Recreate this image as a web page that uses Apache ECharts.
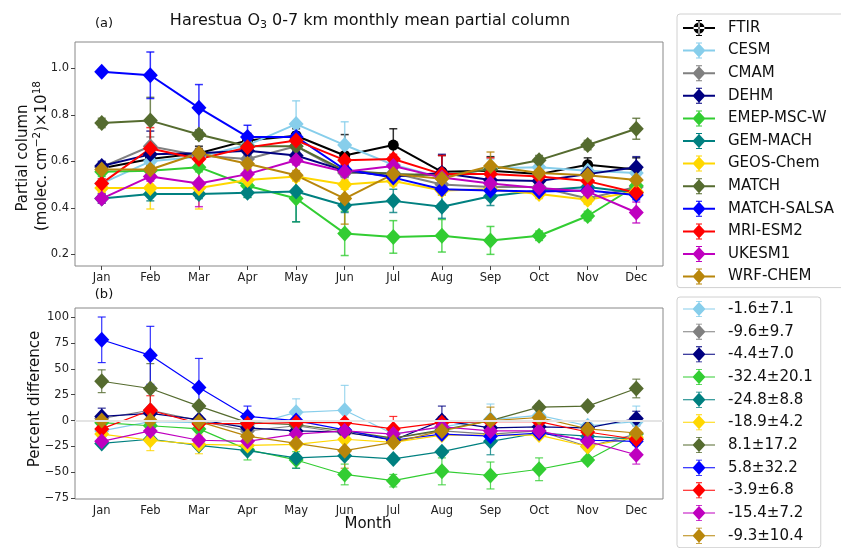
<!DOCTYPE html>
<html><head><meta charset="utf-8">
<script src="https://cdn.jsdelivr.net/npm/echarts@6/dist/echarts.min.js"></script>
<style>html,body{margin:0;padding:0;background:#fff}#c{width:841px;height:548px}</style>
</head><body><div id="c"></div>
<script>
// ---------- data ----------
const months = ['Jan','Feb','Mar','Apr','May','Jun','Jul','Aug','Sep','Oct','Nov','Dec'];
const topTicks = [0.2, 0.4, 0.6, 0.8, 1.0];
const bottomTicks = [-75, -50, -25, 0, 25, 50, 75, 100];

const modelNames = ['FTIR','CESM','CMAM','DEHM','EMEP-MSC-W','GEM-MACH','GEOS-Chem','MATCH','MATCH-SALSA','MRI-ESM2','UKESM1','WRF-CHEM'];
const modelColors = ['#000000','#87CEEB','#808080','#000080','#32CD32','#008080','#FFD700','#556B2F','#0000FF','#FF0000','#BF00BF','#B8860B'];

// (a) partial column, 1e18 molec cm-2
const ftir      = [0.57, 0.61, 0.635, 0.69, 0.71, 0.625, 0.67, 0.555, 0.56, 0.545, 0.585, 0.565];
const ftirErr   = [0.02, 0.03, 0.03, 0.03, 0.03, 0.09, 0.07, 0.07, 0.06, 0.03, 0.03, 0.05];
const cesm      = [0.505, 0.60, 0.62, 0.67, 0.76, 0.67, 0.585, 0.53, 0.57, 0.575, 0.56, 0.55];
const cesmErr   = [0.02, 0.03, 0.03, 0.03, 0.10, 0.10, 0.03, 0.03, 0.04, 0.03, 0.03, 0.03];
const cmam      = [0.575, 0.665, 0.625, 0.61, 0.665, 0.55, 0.55, 0.50, 0.49, 0.49, 0.44, 0.49];
const cmamErr   = [0.02, 0.04, 0.02, 0.02, 0.02, 0.02, 0.02, 0.02, 0.02, 0.02, 0.02, 0.02];
const dehm      = [0.58, 0.63, 0.635, 0.645, 0.625, 0.56, 0.535, 0.55, 0.52, 0.515, 0.545, 0.575];
const dehmErr   = [0.02, 0.10, 0.02, 0.02, 0.02, 0.02, 0.02, 0.08, 0.02, 0.02, 0.02, 0.045];
const emep      = [0.555, 0.56, 0.575, 0.495, 0.44, 0.29, 0.275, 0.28, 0.26, 0.28, 0.365, 0.495];
const emepErr   = [0.02, 0.02, 0.02, 0.05, 0.10, 0.095, 0.07, 0.07, 0.06, 0.02, 0.02, 0.02];
const gemmach   = [0.44, 0.46, 0.46, 0.465, 0.47, 0.41, 0.43, 0.405, 0.45, 0.475, 0.49, 0.465];
const gemmachErr= [0.02, 0.03, 0.02, 0.02, 0.13, 0.03, 0.05, 0.05, 0.04, 0.02, 0.02, 0.02];
const geoschem  = [0.485, 0.485, 0.485, 0.52, 0.535, 0.50, 0.515, 0.475, 0.48, 0.46, 0.435, 0.47];
const geoschemErr=[0.02, 0.09, 0.09, 0.02, 0.02, 0.02, 0.02, 0.02, 0.02, 0.02, 0.02, 0.02];
const match     = [0.765, 0.775, 0.715, 0.665, 0.665, 0.56, 0.545, 0.54, 0.565, 0.605, 0.67, 0.74];
const matchErr  = [0.02, 0.10, 0.02, 0.02, 0.02, 0.02, 0.02, 0.02, 0.02, 0.02, 0.02, 0.045];
const salsa     = [0.985, 0.97, 0.83, 0.705, 0.705, 0.565, 0.53, 0.48, 0.475, 0.47, 0.475, 0.455];
const salsaErr  = [0.01, 0.10, 0.10, 0.05, 0.02, 0.02, 0.02, 0.02, 0.02, 0.02, 0.02, 0.02];
const mri       = [0.505, 0.655, 0.61, 0.66, 0.69, 0.605, 0.61, 0.545, 0.545, 0.535, 0.515, 0.465];
const mriErr    = [0.02, 0.09, 0.02, 0.02, 0.02, 0.02, 0.02, 0.08, 0.07, 0.02, 0.02, 0.02];
const ukesm     = [0.44, 0.535, 0.505, 0.545, 0.605, 0.555, 0.58, 0.53, 0.505, 0.485, 0.47, 0.38];
const ukesmErr  = [0.02, 0.02, 0.10, 0.02, 0.02, 0.02, 0.02, 0.02, 0.02, 0.02, 0.02, 0.045];
const wrf       = [0.565, 0.565, 0.635, 0.59, 0.54, 0.44, 0.545, 0.525, 0.58, 0.55, 0.54, 0.52];
const wrfErr    = [0.02, 0.02, 0.02, 0.02, 0.02, 0.11, 0.02, 0.02, 0.06, 0.02, 0.02, 0.02];

// (b) percent difference vs FTIR
const statLabels = ['-1.6±7.1','-9.6±9.7','-4.4±7.0','-32.4±20.1','-24.8±8.8','-18.9±4.2','8.1±17.2','5.8±32.2','-3.9±6.8','-15.4±7.2','-9.3±10.4'];
const cesmPct     = [-10, -1, -2, -5, 8, 10, -13, -6, 1, 5, -5, -1];
const cesmPctErr  = [3, 3, 3, 3, 13, 24, 3, 3, 15, 3, 3, 15];
const cmamPct     = [2, 10, 0, -10, -5, -12, -17, -10, -13, -10, -25, -13];
const cmamPctErr  = [3, 3, 3, 3, 3, 3, 3, 3, 3, 3, 3, 3];
const dehmPct     = [4, 7, 1, -7, -10, -11, -19, 0, -7, -6, -7, 2];
const dehmPctErr  = [8, 3, 3, 3, 3, 3, 3, 14, 3, 3, 3, 7];
const emepPct     = [-2, -5, -8, -28, -38, -52, -58, -49, -53, -47, -38, -13];
const emepPctErr  = [3, 3, 3, 10, 8, 10, 6, 13, 13, 11, 3, 3];
const gemmachPct  = [-22, -18, -24, -29, -36, -34, -37, -30, -20, -12, -15, -18];
const gemmachPctErr=[3, 3, 3, 3, 10, 3, 3, 3, 13, 3, 3, 3];
const geoschemPct = [-13, -19, -23, -24, -23, -18, -21, -14, -14, -14, -25, -16];
const geoschemPctErr=[3, 10, 9, 3, 3, 3, 3, 3, 3, 3, 3, 3];
const matchPct    = [38, 31, 14, -2, -4, -10, -17, -9, 0, 13, 14, 31];
const matchPctErr = [11, 24, 3, 3, 3, 3, 3, 3, 3, 3, 3, 9];
const salsaPct    = [78, 63, 32, 4, 0, -9, -19, -13, -15, -12, -19, -20];
const salsaPctErr = [22, 28, 28, 10, 3, 3, 3, 3, 3, 3, 3, 3];
const mriPct      = [-8, 10, -3, -3, -2, -2, -8, -2, -1, -1, -11, -18];
const mriPctErr   = [3, 14, 3, 3, 3, 3, 12, 6, 3, 3, 3, 3];
const ukesmPct    = [-20, -10, -19, -20, -13, -10, -13, -6, -10, -10, -20, -33];
const ukesmPctErr = [3, 3, 3, 3, 3, 3, 3, 3, 3, 3, 3, 9];
const wrfPct      = [0, 0, -1, -15, -22, -29, -21, -10, 0, 3, -8, -12];
const wrfPctErr   = [3, 3, 3, 3, 3, 17, 3, 3, 13, 3, 3, 3];

const topVals = [ftir, cesm, cmam, dehm, emep, gemmach, geoschem, match, salsa, mri, ukesm, wrf];
const topErrs = [ftirErr, cesmErr, cmamErr, dehmErr, emepErr, gemmachErr, geoschemErr, matchErr, salsaErr, mriErr, ukesmErr, wrfErr];
const botVals = [cesmPct, cmamPct, dehmPct, emepPct, gemmachPct, geoschemPct, matchPct, salsaPct, mriPct, ukesmPct, wrfPct];
const botErrs = [cesmPctErr, cmamPctErr, dehmPctErr, emepPctErr, gemmachPctErr, geoschemPctErr, matchPctErr, salsaPctErr, mriPctErr, ukesmPctErr, wrfPctErr];

// ---------- chart ----------
const FONT = 'DejaVu Sans';
const chart = echarts.init(document.getElementById('c'), null, {renderer:'canvas'});

function errRender(lw){
  return function(params, api){
    const x = api.value(0), lo = api.value(1), hi = api.value(2);
    const a = api.coord([x, hi]), b = api.coord([x, lo]);
    const c = api.visual('color');
    const st = {stroke: c, lineWidth: lw, opacity: 0.8};
    const cw = 4;
    return {type:'group', children:[
      {type:'line', shape:{x1:a[0], y1:a[1], x2:b[0], y2:b[1]}, style:st},
      {type:'line', shape:{x1:a[0]-cw, y1:a[1], x2:a[0]+cw, y2:a[1]}, style:st},
      {type:'line', shape:{x1:b[0]-cw, y1:b[1], x2:b[0]+cw, y2:b[1]}, style:st}
    ]};
  };
}

const series = [];
topVals.forEach((vals, k) => {
  const col = modelColors[k];
  series.push({
    type:'custom', name:'err-a-'+modelNames[k], xAxisIndex:0, yAxisIndex:0,
    renderItem: errRender(1.5), itemStyle:{color:col}, silent:true,
    encode:{x:0, y:[1,2]},
    data: vals.map((v,i) => [i+1, v - topErrs[k][i], v + topErrs[k][i]])
  });
  series.push({
    type:'line', name:modelNames[k], xAxisIndex:0, yAxisIndex:0,
    data: vals.map((v,i) => [i+1, v]),
    symbol: k === 0 ? 'circle' : 'diamond',
    symbolSize: k === 0 ? 11 : [15, 16],
    lineStyle:{color:col, width:2}, itemStyle:{color:col},
    emphasis:{disabled:true}, silent:true
  });
});
botVals.forEach((vals, k) => {
  const col = modelColors[k+1];
  series.push({
    type:'custom', name:'err-b-'+modelNames[k+1], xAxisIndex:1, yAxisIndex:1,
    renderItem: errRender(1.2), itemStyle:{color:col}, silent:true,
    encode:{x:0, y:[1,2]},
    data: vals.map((v,i) => [i+1, v - botErrs[k][i], v + botErrs[k][i]])
  });
  const s = {
    type:'line', name:statLabels[k], xAxisIndex:1, yAxisIndex:1,
    data: vals.map((v,i) => [i+1, v]),
    symbol:'diamond', symbolSize:[15, 16],
    lineStyle:{color:col, width:1.2}, itemStyle:{color:col},
    emphasis:{disabled:true}, silent:true
  };
  if (k === 0) {
    s.markLine = {silent:true, symbol:'none', label:{show:false},
      lineStyle:{color:'#e4e4e4', width:2, type:'solid'}, data:[{yAxis:0}]};
  }
  series.push(s);
});

const diamondIconThick = 'path://M0,7 L32,7 L32,9 L0,9 Z M15.4,0 L16.6,0 L16.6,16 L15.4,16 Z M13,0 L19,0 L19,1 L13,1 Z M13,15 L19,15 L19,16 L13,16 Z M16,1 L22.5,8 L16,15 L9.5,8 Z';
const circleIcon = 'path://M0,7 L32,7 L32,9 L0,9 Z M15.4,0 L16.6,0 L16.6,16 L15.4,16 Z M13,0 L19,0 L19,1 L13,1 Z M13,15 L19,15 L19,16 L13,16 Z M10.5,8 A5.5,5.5 0 1,0 21.5,8 A5.5,5.5 0 1,0 10.5,8 Z';
const diamondIconThin = 'path://M0,7.5 L32,7.5 L32,8.5 L0,8.5 Z M15.5,0 L16.5,0 L16.5,16 L15.5,16 Z M13,0 L19,0 L19,0.8 L13,0.8 Z M13,15.2 L19,15.2 L19,16 L13,16 Z M16,1 L22.5,8 L16,15 L9.5,8 Z';

function xAxisCfg(gi){
  return {
    type:'value', gridIndex:gi, min:0.45, max:12.55,
    axisLine:{show:false}, splitLine:{show:false},
    axisTick:{show:true, customValues: months.map((m,i)=>i+1), length:4, lineStyle:{color:'#444'}},
    axisLabel:{customValues: months.map((m,i)=>i+1), formatter: v => months[Math.round(v)-1],
      fontFamily:FONT, fontSize:11.5, color:'#222', margin:6}
  };
}

const option = {
  animation:false,
  backgroundColor:'#fff',
  grid:[
    {left:75, top:42, width:588, height:224, show:true, borderColor:'#888', borderWidth:1, backgroundColor:'transparent'},
    {left:75, top:308, width:588, height:191, show:true, borderColor:'#888', borderWidth:1, backgroundColor:'transparent'}
  ],
  xAxis:[xAxisCfg(0), xAxisCfg(1)],
  yAxis:[
    {type:'value', gridIndex:0, min:0.15, max:1.113,
     axisLine:{show:false}, splitLine:{show:false},
     axisTick:{show:true, customValues:topTicks, length:4, lineStyle:{color:'#444'}},
     axisLabel:{customValues:topTicks, formatter: v => v.toFixed(1), fontFamily:FONT, fontSize:11.5, color:'#222', margin:6}},
    {type:'value', gridIndex:1, min:-75.7, max:108.7,
     axisLine:{show:false}, splitLine:{show:false},
     axisTick:{show:true, customValues:bottomTicks, length:4, lineStyle:{color:'#444'}},
     axisLabel:{customValues:bottomTicks, formatter: v => String(Math.round(v)).replace('-', '\u2212'), fontFamily:FONT, fontSize:11.5, color:'#222', margin:6}}
  ],
  legend:[
    {orient:'vertical', left:677, top:14, itemWidth:32, itemHeight:16, itemGap:6.6,
     padding:[6, 10, 3, 6], borderColor:'#d0d0d0', borderWidth:1, borderRadius:3,
     backgroundColor:'#fff', selectedMode:false,
     textStyle:{fontFamily:FONT, fontSize:15, color:'#111', padding:[0,0,0,8]},
     data: modelNames.map((n,k) => ({name:n, icon: k === 0 ? circleIcon : diamondIconThick}))},
    {orient:'vertical', left:677, top:297, itemWidth:32, itemHeight:16, itemGap:6.67,
     padding:[4, 8, 4, 6], borderColor:'#d0d0d0', borderWidth:1, borderRadius:3,
     backgroundColor:'#fff', selectedMode:false,
     textStyle:{fontFamily:FONT, fontSize:15, color:'#111', padding:[0,0,0,8]},
     data: statLabels.map(n => ({name:n, icon: diamondIconThin}))}
  ],
  graphic:[
    {type:'text', x:370, y:21, style:{
      text:'{n|Harestua O}{s|3}{n| 0-7 km monthly mean partial column}',
      align:'center', verticalAlign:'middle',
      rich:{n:{fontFamily:FONT, fontSize:16, fill:'#111', lineHeight:20, verticalAlign:'middle'},
            s:{fontFamily:FONT, fontSize:11, fill:'#111', lineHeight:20, verticalAlign:'bottom', padding:[0,0,0,0]}}}},
    {type:'text', x:104, y:24, style:{text:'(a)', font:'13px "DejaVu Sans"', fill:'#111', align:'center', verticalAlign:'middle'}},
    {type:'text', x:104, y:295, style:{text:'(b)', font:'13px "DejaVu Sans"', fill:'#111', align:'center', verticalAlign:'middle'}},
    {type:'text', x:23, y:158, rotation:Math.PI/2, style:{text:'Partial column', font:'15px "DejaVu Sans"', fill:'#111', align:'center', verticalAlign:'middle'}},
    {type:'text', x:42, y:156, rotation:Math.PI/2, style:{
      text:'{n|(molec. cm}{s|\u22122}{n|)\u00D710}{s|18}',
      align:'center', verticalAlign:'middle',
      rich:{n:{fontFamily:FONT, fontSize:15, fill:'#111', lineHeight:20, verticalAlign:'middle'},
            s:{fontFamily:FONT, fontSize:10.5, fill:'#111', lineHeight:20, verticalAlign:'top'}}}},
    {type:'text', x:35, y:399, rotation:Math.PI/2, style:{text:'Percent difference', font:'15px "DejaVu Sans"', fill:'#111', align:'center', verticalAlign:'middle'}},
    {type:'text', x:368, y:524, style:{text:'Month', font:'15px "DejaVu Sans"', fill:'#111', align:'center', verticalAlign:'middle'}}
  ],
  series: series
};
chart.setOption(option);
</script>
</body></html>
